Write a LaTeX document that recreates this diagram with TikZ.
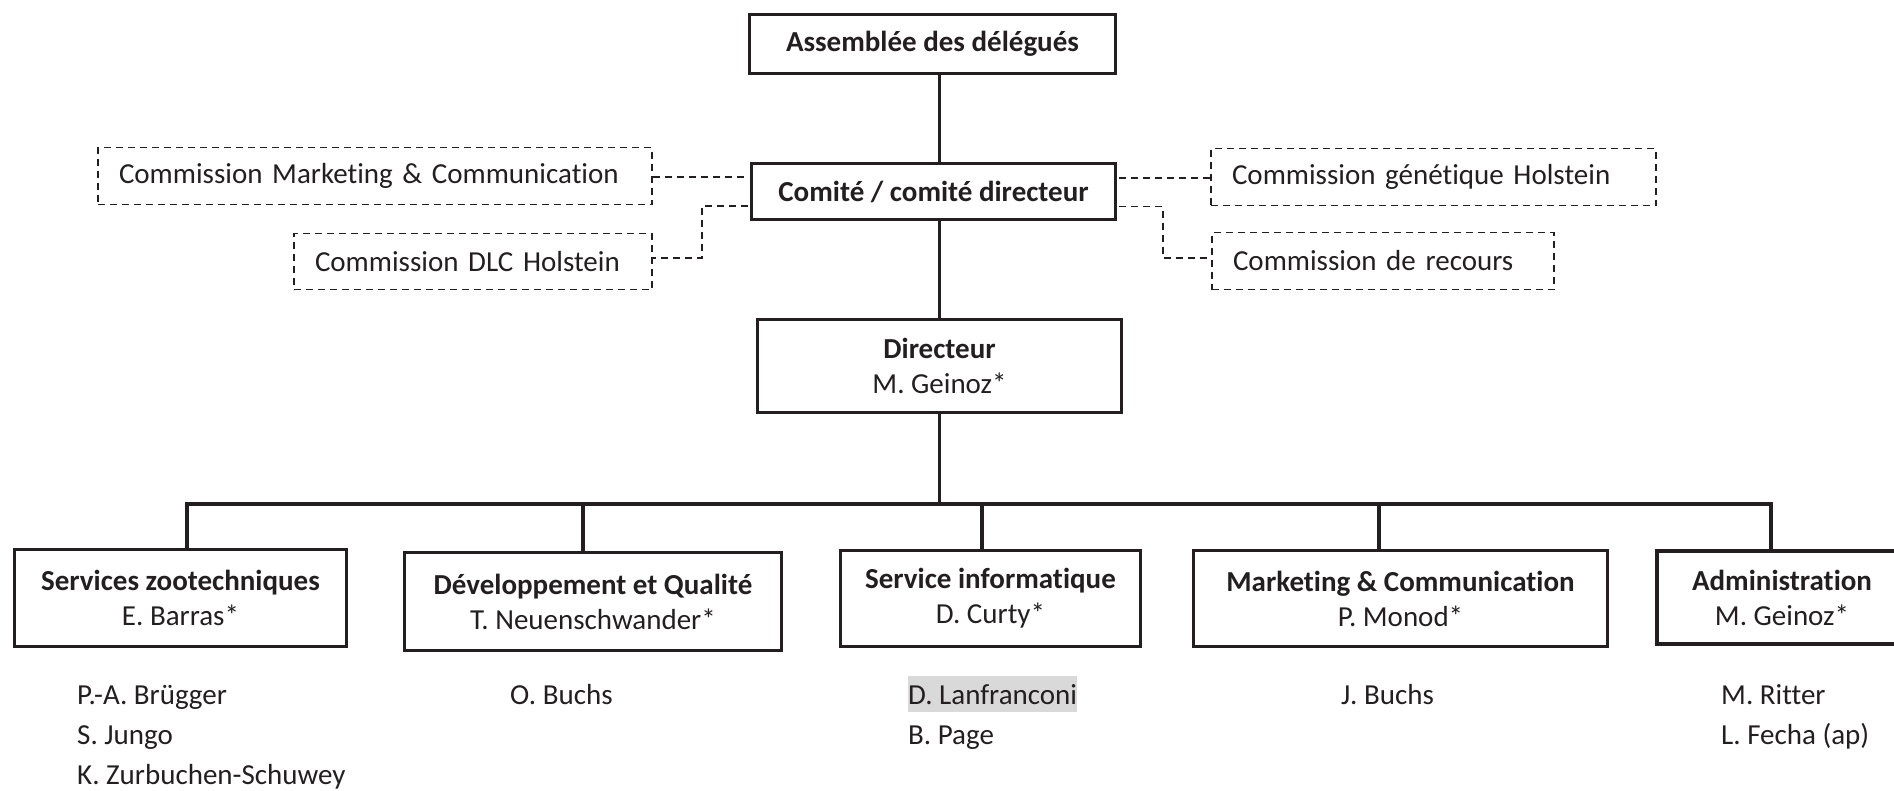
\documentclass[tikz,border=0pt]{standalone}
\usepackage{fontspec}
\setmainfont{Carlito}[Ligatures={NoCommon,NoContextual}]
\usetikzlibrary{calc}
\definecolor{ink}{HTML}{231F20}
\definecolor{hl}{HTML}{D9D9D9}
\begin{document}
\begin{tikzpicture}[x=1pt,y=-1pt,
  box/.style={draw=ink, line width=3.8pt, rectangle, inner sep=0pt, align=center,
    font=\fontsize{29}{35}\selectfont, text=ink},
  boxtext/.style={inner sep=0pt, align=center, font=\fontsize{29}{35}\selectfont, text=ink},
  cbox/.style={draw=ink, line width=1.8pt, dash pattern=on 7pt off 5pt, rectangle,
    inner ysep=0pt, inner xsep=21pt, align=left, font=\fontsize{29}{35}\selectfont, text=ink},
  link/.style={draw=ink, line width=3.8pt},
  dlink/.style={draw=ink, line width=1.8pt, dash pattern=on 7pt off 5pt},
  person/.style={anchor=west, inner xsep=0pt, inner ysep=4pt, text height=24pt,
    text depth=4pt, font=\fontsize{29}{35}\selectfont, text=ink}
]
\useasboundingbox (0,0) rectangle (1894,790);
\clip (0,0) rectangle (1894,790);

% main boxes
\node[box, minimum width=366pt, minimum height=59pt] (asm) at (932.5,44) {\textbf{Assemblée des délégués}};
\node[box, minimum width=364pt, minimum height=56pt] (com) at (933.5,191.5) {\textbf{Comité / comité directeur}};
\node[box, minimum width=364pt, minimum height=93pt] (dir) at (939.5,366) {\textbf{Directeur}\\M. Geinoz*};

% commissions
\node[cbox, text width=512pt, minimum height=57pt] (cmc) at (375,176) {Commission Marketing \& Communication};
\node[cbox, text width=316pt, minimum height=56pt] (cdlc) at (473,261.5) {Commission DLC Holstein};
\node[cbox, text width=403pt, minimum height=57pt] (cgen) at (1433.5,177) {Commission génétique Holstein};
\node[cbox, text width=300pt, minimum height=57pt] (crec) at (1383,261) {Commission de recours};

% departments
\node[box, minimum width=332pt, minimum height=97pt] (b1) at (180.5,598) {\textbf{Services zootechniques}\\E. Barras*};
\node[box, minimum width=377pt, minimum height=98pt] (b2) at (593,601.5) {\textbf{Développement et Qualité}\\T. Neuenschwander*};
\node[box, minimum width=300pt, minimum height=96pt] (b3) at (990.5,598.5) {\textbf{Service informatique}\\D. Curty*};
\node[box, minimum width=414pt, minimum height=96pt] (b4) at (1400.5,598.5) {\textbf{Marketing \& Communication}\\P. Monod*};
\node[box, minimum width=340pt, minimum height=93pt] (b5) at (1827,597.5) {};
\node[boxtext] (b5t) at (1782,597.5) {\textbf{Administration}\\M. Geinoz*};

% solid connectors
\draw[link] (asm.south -| dir.north) -- (com.north -| dir.north);
\draw[link] (com.south -| dir.north) -- (dir.north);
\coordinate (d1) at (187,504);
\coordinate (d2) at (583,504);
\coordinate (d3) at (982,504);
\coordinate (d4) at (1379,504);
\coordinate (d5) at (1771,504);
\draw[link] (dir.south) -- (dir.south |- d1);
\draw[link] (d1 |- b1.north) -- (d1) -- (d5) -- (d5 |- b5.north);
\draw[link] (d2) -- (d2 |- b2.north);
\draw[link] (d3) -- (d3 |- b3.north);
\draw[link] (d4) -- (d4 |- b4.north);

% dashed connectors
\coordinate (cl1) at ($(com.west)+(-1.9,-14.5)$);
\coordinate (cl2) at ($(com.west)+(-1.9,14.5)$);
\coordinate (cr1) at ($(com.east)+(1.9,-13.5)$);
\coordinate (cr2) at ($(com.east)+(1.9,15)$);
\draw[dlink] (cmc.east |- cl1) -- (cl1);
\draw[dlink] (cl2) -| ($(cdlc.east)+(49,-3.5)$) -- ($(cdlc.east)+(0,-3.5)$);
\draw[dlink] (cr1) -- (cgen.west |- cr1);
\draw[dlink] (cr2) -| ($(crec.west)+(-48,-3)$) -- ($(crec.west)+(0,-3)$);

% staff
\node[person] (p1) at (77,694) {P.-A. Brügger};
\node[person] (p2) at (77,734) {S. Jungo};
\node[person] (p3) at (77,774) {K. Zurbuchen-Schuwey};
\node[person] (p4) at (510,694) {O. Buchs};
\node[person, fill=hl] (p5) at (908,694) {D. Lanfranconi};
\node[person] (p6) at (908,734) {B. Page};
\node[person] (p7) at (1341,694) {J. Buchs};
\node[person] (p8) at (1721,694) {M. Ritter};
\node[person] (p9) at (1721,734) {L. Fecha (ap)};
\end{tikzpicture}
\end{document}
